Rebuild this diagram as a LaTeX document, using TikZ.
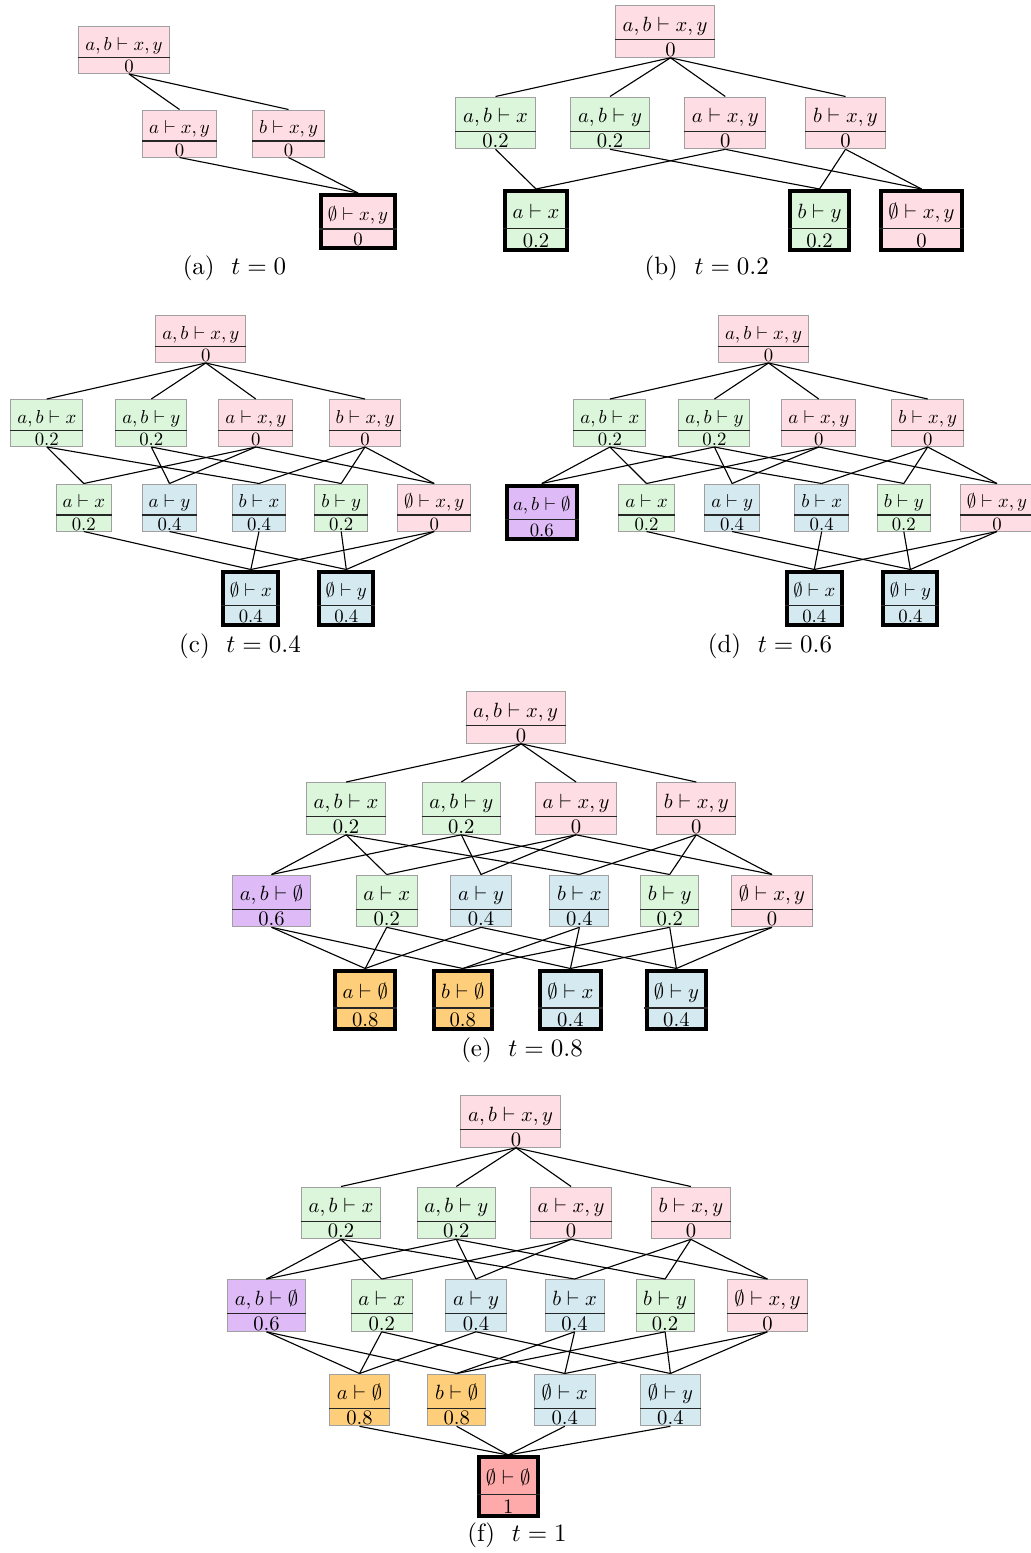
\RequirePackage{fix-cm}
\documentclass[tikz,border=0pt]{standalone}
\usepackage{graphicx}
\usetikzlibrary{shapes.multipart}
\definecolor{pinkc}{RGB}{255,221,228}
\definecolor{greenc}{RGB}{220,246,220}
\definecolor{bluec}{RGB}{212,233,240}
\definecolor{purplec}{RGB}{222,187,246}
\definecolor{orangec}{RGB}{255,206,122}
\definecolor{redc}{RGB}{255,170,170}
\definecolor{bcol}{RGB}{160,160,160}
\newcommand{\nodefont}{\fontsize{10}{12}\selectfont}
\newcommand{\sqt}[2]{\raisebox{0pt}[9.2pt][2.8pt]{\scalebox{0.75}{$#1$}}\nodepart{two}\raisebox{0pt}[5.9pt][0.1pt]{\scalebox{0.75}{$#2$}}}
\tikzset{
  sq/.style={rectangle split, rectangle split parts=2, rectangle split draw splits=false,
    draw=bcol, line width=0.4pt,
    fill=#1, inner xsep=2.6pt, inner ysep=0pt, font=\nodefont, anchor=north,
    append after command={(\tikzlastnode.text split west) edge[divl] (\tikzlastnode.text split east)}},
  thk/.style={draw=black, line width=1.6pt},
  divl/.style={draw=black!85, line width=0.5pt},
  conn/.style={draw=black, line width=0.45pt},
  capt/.style={font=\fontsize{10}{12}\selectfont, anchor=base}
}
\begin{document}
\begin{tikzpicture}[x=0.4pt,y=-0.4pt]
\useasboundingbox (0,0) rectangle (1031,1553);
% ---------------- (a)
\node[sq=pinkc] (aT) at (124,26) {\sqt{a,b\vdash x,y}{\hspace{5.3pt}0}};
\node[sq=pinkc] (aA) at (179.5,109.5) {\sqt{a\vdash x,y}{0}};
\node[sq=pinkc] (aB) at (288.5,109.5) {\sqt{b\vdash x,y}{0}};
\node[sq=pinkc,thk] (aN) at (358,193) {\sqt{\emptyset\vdash x,y}{0}};
\foreach \t in {aA,aB} \draw[conn] ([xshift=2pt]aT.south) -- (\t.north);
\foreach \s/\t in {aA/aN,aB/aN} \draw[conn] (\s.south) -- (\t.north);
\node[capt] (capa) at (234.5,274) {(a)~~$t=0$};
% ---------------- (b)
\begin{scope}[nodes={scale=1.1}]
\node[sq=pinkc] (bT) at (665,5) {\sqt{a,b\vdash x,y}{\hspace{5.3pt}0}};
\node[sq=greenc] (bX) at (495.5,96.5) {\sqt{a,b\vdash x}{0.2}};
\node[sq=greenc] (bY) at (610,96.5) {\sqt{a,b\vdash y}{0.2}};
\node[sq=pinkc] (bA) at (725.3,96.5) {\sqt{a\vdash x,y}{0}};
\node[sq=pinkc] (bB) at (845.5,96.5) {\sqt{b\vdash x,y}{0}};
\node[sq=greenc,thk] (bAx) at (536,189) {\sqt{a\vdash x}{0.2}};
\node[sq=greenc,thk] (bBy) at (819.5,189) {\sqt{b\vdash y}{0.2}};
\node[sq=pinkc,thk] (bN) at (921.5,189) {\sqt{\emptyset\vdash x,y}{0}};
\end{scope}
\foreach \t in {bX,bY,bA,bB} \draw[conn] ([xshift=2.2pt]bT.south) -- (\t.north);
\foreach \s/\t in {bX/bAx,bY/bBy,bA/bAx,bA/bN,bB/bBy,bB/bN} \draw[conn] (\s.south) -- (\t.north);
\node[capt] (capb) at (706.7,274) {(b)~~$t=0.2$};
% ---------------- (c)
\node[sq=pinkc] (cT) at (200.8,315) {\sqt{a,b\vdash x,y}{\hspace{5.3pt}0}};
\node[sq=greenc] (cX) at (46.8,399) {\sqt{a,b\vdash x}{0.2}};
\node[sq=greenc] (cY) at (151.3,399) {\sqt{a,b\vdash y}{0.2}};
\node[sq=pinkc] (cA) at (255.8,399) {\sqt{a\vdash x,y}{0}};
\node[sq=pinkc] (cB) at (365,399) {\sqt{b\vdash x,y}{0}};
\node[sq=greenc] (cAx) at (83.8,483.5) {\sqt{a\vdash x}{0.2}};
\node[sq=bluec] (cAy) at (169.5,483.5) {\sqt{a\vdash y}{0.4}};
\node[sq=bluec] (cBx) at (259,483.5) {\sqt{b\vdash x}{0.4}};
\node[sq=greenc] (cBy) at (341.2,483.5) {\sqt{b\vdash y}{0.2}};
\node[sq=pinkc] (cN) at (434.2,483.5) {\sqt{\emptyset\vdash x,y}{0}};
\node[sq=bluec,thk] (cNx) at (250.8,569.5) {\sqt{\emptyset\vdash x}{0.4}};
\node[sq=bluec,thk] (cNy) at (346.3,569.5) {\sqt{\emptyset\vdash y}{0.4}};
\foreach \t in {cX,cY,cA,cB} \draw[conn] ([xshift=2pt]cT.south) -- (\t.north);
\foreach \s/\t in {cX/cAx,cX/cBx,cY/cAy,cY/cBy,cA/cAx,cA/cAy,cA/cN,cB/cBx,cB/cBy,cB/cN,
  cAx/cNx,cBx/cNx,cN/cNx,cAy/cNy,cBy/cNy,cN/cNy} \draw[conn] (\s.south) -- (\t.north);
\node[capt] (capc) at (240,652) {(c)~~$t=0.4$};
% ---------------- (d)
\node[sq=pinkc] (dT) at (763.6,315) {\sqt{a,b\vdash x,y}{\hspace{5.3pt}0}};
\node[sq=greenc] (dX) at (609.9,399) {\sqt{a,b\vdash x}{0.2}};
\node[sq=greenc] (dY) at (714.4,399) {\sqt{a,b\vdash y}{0.2}};
\node[sq=pinkc] (dA) at (818.8,399) {\sqt{a\vdash x,y}{0}};
\node[sq=pinkc] (dB) at (927.7,399) {\sqt{b\vdash x,y}{0}};
\node[sq=purplec,thk] (dE) at (541.8,483.5) {\sqt{a,b\vdash\emptyset}{0.6}};
\node[sq=greenc] (dAx) at (646.5,483.5) {\sqt{a\vdash x}{0.2}};
\node[sq=bluec] (dAy) at (732.1,483.5) {\sqt{a\vdash y}{0.4}};
\node[sq=bluec] (dBx) at (821.7,483.5) {\sqt{b\vdash x}{0.4}};
\node[sq=greenc] (dBy) at (903.8,483.5) {\sqt{b\vdash y}{0.2}};
\node[sq=pinkc] (dN) at (997,483.5) {\sqt{\emptyset\vdash x,y}{0}};
\node[sq=bluec,thk] (dNx) at (814.3,569.5) {\sqt{\emptyset\vdash x}{0.4}};
\node[sq=bluec,thk] (dNy) at (910.4,569.5) {\sqt{\emptyset\vdash y}{0.4}};
\foreach \t in {dX,dY,dA,dB} \draw[conn] ([xshift=2pt]dT.south) -- (\t.north);
\foreach \s/\t in {dX/dE,dX/dAx,dX/dBx,dY/dE,dY/dAy,dY/dBy,dA/dAx,dA/dAy,dA/dN,dB/dBx,dB/dBy,dB/dN,
  dAx/dNx,dBx/dNx,dN/dNx,dAy/dNy,dBy/dNy,dN/dNy} \draw[conn] (\s.south) -- (\t.north);
\node[capt] (capd) at (770,652) {(d)~~$t=0.6$};
% ---------------- (e)
\begin{scope}[nodes={scale=1.1}]
\node[sq=pinkc] (eT) at (515.6,691) {\sqt{a,b\vdash x,y}{\hspace{5.3pt}0}};
\node[sq=greenc] (eX) at (346.1,782) {\sqt{a,b\vdash x}{0.2}};
\node[sq=greenc] (eY) at (461.3,782) {\sqt{a,b\vdash y}{0.2}};
\node[sq=pinkc] (eA) at (576.1,782) {\sqt{a\vdash x,y}{0}};
\node[sq=pinkc] (eB) at (696.3,782) {\sqt{b\vdash x,y}{0}};
\node[sq=purplec] (eE) at (271.5,874.5) {\sqt{a,b\vdash\emptyset}{0.6}};
\node[sq=greenc] (eAx) at (386.7,874.5) {\sqt{a\vdash x}{0.2}};
\node[sq=bluec] (eAy) at (481,874.5) {\sqt{a\vdash y}{0.4}};
\node[sq=bluec] (eBx) at (579.4,874.5) {\sqt{b\vdash x}{0.4}};
\node[sq=greenc] (eBy) at (669.7,874.5) {\sqt{b\vdash y}{0.2}};
\node[sq=pinkc] (eN) at (772,874.5) {\sqt{\emptyset\vdash x,y}{0}};
\node[sq=orangec,thk] (ea) at (365.2,968.5) {\sqt{a\vdash\emptyset}{0.8}};
\node[sq=orangec,thk] (eb) at (462.8,968.5) {\sqt{b\vdash\emptyset}{0.8}};
\node[sq=bluec,thk] (eNx) at (570.4,968.5) {\sqt{\emptyset\vdash x}{0.4}};
\node[sq=bluec,thk] (eNy) at (676.4,968.5) {\sqt{\emptyset\vdash y}{0.4}};
\end{scope}
\foreach \t in {eX,eY,eA,eB} \draw[conn] ([xshift=2.2pt]eT.south) -- (\t.north);
\foreach \s/\t in {eX/eE,eX/eAx,eX/eBx,eY/eE,eY/eAy,eY/eBy,eA/eAx,eA/eAy,eA/eN,eB/eBx,eB/eBy,eB/eN,
  eE/ea,eE/eb,eAx/ea,eAx/eNx,eAy/ea,eAy/eNy,eBx/eb,eBx/eNx,eBy/eb,eBy/eNy,eN/eNx,eN/eNy}
  \draw[conn] (\s.south) -- (\t.north);
\node[capt] (cape) at (522,1056) {(e)~~$t=0.8$};
% ---------------- (f)
\begin{scope}[nodes={scale=1.1}]
\node[sq=pinkc] (fT) at (510.5,1095) {\sqt{a,b\vdash x,y}{\hspace{5.3pt}0}};
\node[sq=greenc] (fX) at (341,1186.5) {\sqt{a,b\vdash x}{0.2}};
\node[sq=greenc] (fY) at (456.3,1186.5) {\sqt{a,b\vdash y}{0.2}};
\node[sq=pinkc] (fA) at (571.1,1186.5) {\sqt{a\vdash x,y}{0}};
\node[sq=pinkc] (fB) at (690.9,1186.5) {\sqt{b\vdash x,y}{0}};
\node[sq=purplec] (fE) at (266.5,1279) {\sqt{a,b\vdash\emptyset}{0.6}};
\node[sq=greenc] (fAx) at (381.7,1279) {\sqt{a\vdash x}{0.2}};
\node[sq=bluec] (fAy) at (476,1279) {\sqt{a\vdash y}{0.4}};
\node[sq=bluec] (fBx) at (574.6,1279) {\sqt{b\vdash x}{0.4}};
\node[sq=greenc] (fBy) at (665.1,1279) {\sqt{b\vdash y}{0.2}};
\node[sq=pinkc] (fN) at (767.4,1279) {\sqt{\emptyset\vdash x,y}{0}};
\node[sq=orangec] (fa) at (359.5,1373.5) {\sqt{a\vdash\emptyset}{0.8}};
\node[sq=orangec] (fb) at (456.7,1373.5) {\sqt{b\vdash\emptyset}{0.8}};
\node[sq=bluec] (fNx) at (564.8,1373.5) {\sqt{\emptyset\vdash x}{0.4}};
\node[sq=bluec] (fNy) at (670.4,1373.5) {\sqt{\emptyset\vdash y}{0.4}};
\node[sq=redc,thk] (fZ) at (508.2,1455) {\sqt{\emptyset\vdash\emptyset}{1}};
\end{scope}
\foreach \t in {fX,fY,fA,fB} \draw[conn] ([xshift=2.2pt]fT.south) -- (\t.north);
\foreach \s/\t in {fX/fE,fX/fAx,fX/fBx,fY/fE,fY/fAy,fY/fBy,fA/fAx,fA/fAy,fA/fN,fB/fBx,fB/fBy,fB/fN,
  fE/fa,fE/fb,fAx/fa,fAx/fNx,fAy/fa,fAy/fNy,fBx/fb,fBx/fNx,fBy/fb,fBy/fNy,fN/fNx,fN/fNy,
  fa/fZ,fb/fZ,fNx/fZ,fNy/fZ}
  \draw[conn] (\s.south) -- (\t.north);
\node[capt] (capf) at (517,1541) {(f)~~$t=1$};
\end{tikzpicture}
\end{document}
